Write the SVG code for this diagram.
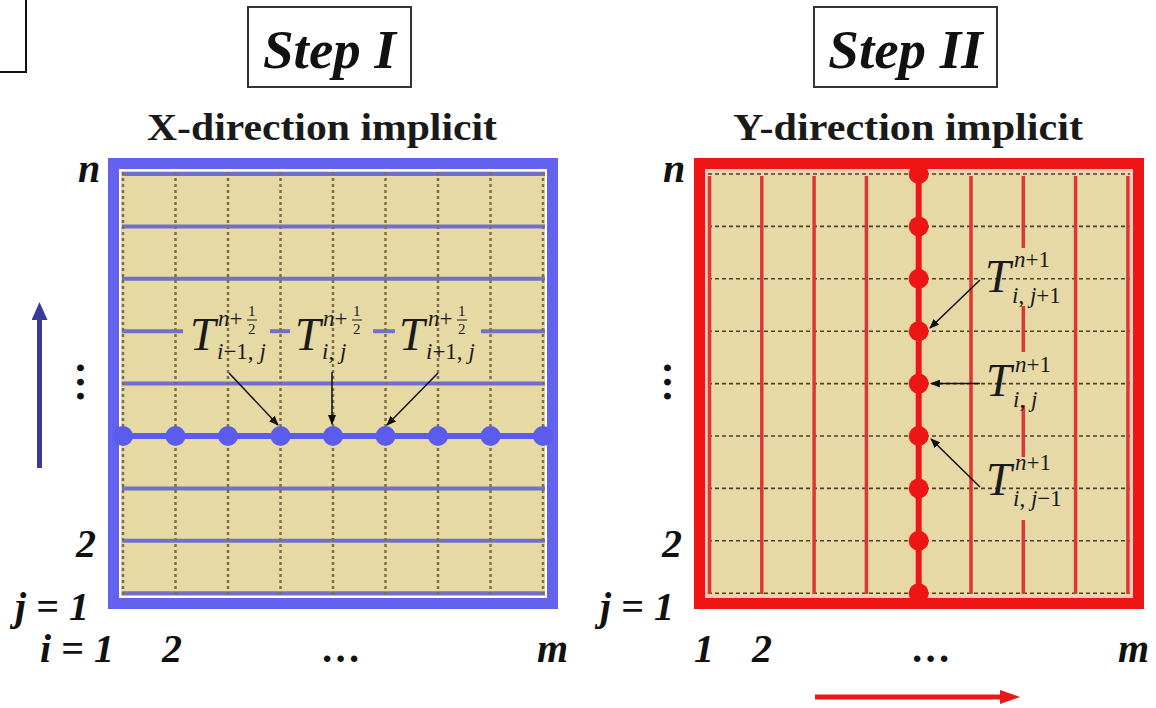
<svg xmlns="http://www.w3.org/2000/svg" width="1156" height="708" viewBox="0 0 1156 708">
<defs>
<marker id="ah" markerWidth="10" markerHeight="8" refX="9" refY="4" orient="auto" markerUnits="userSpaceOnUse"><path d="M0,0 L10,4 L0,8 z" fill="#111"/></marker>
<marker id="ahBlue" markerWidth="18" markerHeight="16" refX="2" refY="8" orient="auto" markerUnits="userSpaceOnUse"><path d="M0,0 L18,8 L0,16 z" fill="#3D3A97"/></marker>
<marker id="ahRed" markerWidth="20" markerHeight="14" refX="2" refY="7" orient="auto" markerUnits="userSpaceOnUse"><path d="M0,0 L20,7 L0,14 z" fill="#E81818"/></marker>
</defs>
<style>
.lbl{font-family:"Liberation Serif","Times New Roman",serif;font-weight:bold;font-style:italic;font-size:40px;fill:#111}
.vdots{font-family:"Liberation Serif","Times New Roman",serif;font-weight:bold;font-size:42px;fill:#111}
.ttl{font-family:"Liberation Serif","Times New Roman",serif;font-weight:bold;font-size:38px;fill:#1a1a1a}
.step{font-family:"Liberation Serif","Times New Roman",serif;font-weight:bold;font-style:italic;font-size:55px;fill:#111}
.m{font-family:"Liberation Serif","Times New Roman",serif;fill:#1a1a1a}
.T{font-size:46px;font-style:italic}
.s{font-size:23px}
.f{font-size:15px}
.it{font-style:italic}
.hb{stroke:#7070CC;stroke-width:4}
.vd{stroke:#7d7048;stroke-width:2.5;stroke-dasharray:3 3}
.hd{stroke:#4a4030;stroke-width:1.6;stroke-dasharray:4 3}
.vr{stroke:#E03535;stroke-width:3.5}
.arr{stroke:#111;stroke-width:1.5;fill:none;marker-end:url(#ah)}
.fbar{stroke:#1a1a1a;stroke-width:1}
.bdot{fill:#5B5BEE}
.rdot{fill:#EE1515}
</style>
<rect width="1156" height="708" fill="#ffffff"/>

<g id="corner-box"><rect x="-10" y="-10" width="36" height="82" fill="none" stroke="#111" stroke-width="2"/></g>

<g id="step1-title">
<rect x="248" y="7" width="163" height="80" fill="#fff" stroke="#333" stroke-width="2"/>
<text class="step" x="329.5" y="68" text-anchor="middle">Step I</text>
<text class="ttl" x="147" y="140" textLength="350" lengthAdjust="spacingAndGlyphs">X-direction implicit</text>
</g>

<g id="step2-title">
<rect x="814" y="7" width="183" height="80" fill="#fff" stroke="#333" stroke-width="2"/>
<text class="step" x="905.5" y="68" text-anchor="middle">Step II</text>
<text class="ttl" x="733" y="140" textLength="350" lengthAdjust="spacingAndGlyphs">Y-direction implicit</text>
</g>

<g id="panel-left">
<rect x="120" y="170" width="426" height="427" fill="#E6D9A4" stroke="#ffffff" stroke-width="2"/>
<line class="hb" x1="122" y1="174" x2="545" y2="174"/>
<line class="hb" x1="122" y1="226.4" x2="545" y2="226.4"/>
<line class="hb" x1="122" y1="278.8" x2="545" y2="278.8"/>
<line class="hb" x1="122" y1="331.2" x2="183" y2="331.2"/>
<line class="hb" x1="270" y1="331.2" x2="290" y2="331.2"/>
<line class="hb" x1="373" y1="331.2" x2="395" y2="331.2"/>
<line class="hb" x1="481" y1="331.2" x2="545" y2="331.2"/>
<line class="hb" x1="122" y1="383.6" x2="545" y2="383.6"/>
<line class="hb" x1="122" y1="488.4" x2="545" y2="488.4"/>
<line class="hb" x1="122" y1="540.8" x2="545" y2="540.8"/>
<line class="hb" x1="122" y1="593.2" x2="545" y2="593.2"/>
<line class="vd" x1="123" y1="172" x2="123" y2="596"/>
<line class="vd" x1="175.5" y1="172" x2="175.5" y2="596"/>
<line class="vd" x1="228" y1="172" x2="228" y2="596"/>
<line class="vd" x1="280.5" y1="172" x2="280.5" y2="596"/>
<line class="vd" x1="333" y1="172" x2="333" y2="596"/>
<line class="vd" x1="385.5" y1="172" x2="385.5" y2="596"/>
<line class="vd" x1="438" y1="172" x2="438" y2="596"/>
<line class="vd" x1="490.5" y1="172" x2="490.5" y2="596"/>
<line class="vd" x1="543" y1="172" x2="543" y2="596"/>
<rect x="113.5" y="163.5" width="439" height="440" fill="none" stroke="#6262EE" stroke-width="11"/>
<line x1="118" y1="436" x2="548" y2="436" stroke="#5B5BEE" stroke-width="6"/>
<circle class="bdot" cx="123" cy="436" r="10"/>
<circle class="bdot" cx="175.5" cy="436" r="10"/>
<circle class="bdot" cx="228" cy="436" r="10"/>
<circle class="bdot" cx="280.5" cy="436" r="10"/>
<circle class="bdot" cx="333" cy="436" r="10"/>
<circle class="bdot" cx="385.5" cy="436" r="10"/>
<circle class="bdot" cx="438" cy="436" r="10"/>
<circle class="bdot" cx="490.5" cy="436" r="10"/>
<circle class="bdot" cx="543" cy="436" r="10"/>
</g>

<g id="panel-right">
<rect x="706" y="170" width="426" height="427" fill="#E6D9A6" stroke="#FFC8C0" stroke-width="2"/>
<line class="hd" x1="708" y1="174" x2="1130" y2="174"/>
<line class="hd" x1="708" y1="226.4" x2="1130" y2="226.4"/>
<line class="hd" x1="708" y1="278.8" x2="1130" y2="278.8"/>
<line class="hd" x1="708" y1="331.2" x2="1130" y2="331.2"/>
<line class="hd" x1="708" y1="383.6" x2="1130" y2="383.6"/>
<line class="hd" x1="708" y1="436" x2="1130" y2="436"/>
<line class="hd" x1="708" y1="488.4" x2="1130" y2="488.4"/>
<line class="hd" x1="708" y1="540.8" x2="1130" y2="540.8"/>
<line class="hd" x1="708" y1="593.2" x2="1130" y2="593.2"/>
<line class="vr" x1="709.5" y1="176" x2="709.5" y2="594"/>
<line class="vr" x1="761.8" y1="176" x2="761.8" y2="594"/>
<line class="vr" x1="814.1" y1="176" x2="814.1" y2="594"/>
<line class="vr" x1="866.4" y1="176" x2="866.4" y2="594"/>
<line class="vr" x1="971" y1="176" x2="971" y2="594"/>
<line class="vr" x1="1023.3" y1="176" x2="1023.3" y2="248"/>
<line class="vr" x1="1023.3" y1="306" x2="1023.3" y2="352"/>
<line class="vr" x1="1023.3" y1="405" x2="1023.3" y2="457"/>
<line class="vr" x1="1023.3" y1="520" x2="1023.3" y2="594"/>
<line class="vr" x1="1075.6" y1="176" x2="1075.6" y2="594"/>
<line class="vr" x1="1127.9" y1="176" x2="1127.9" y2="594"/>
<rect x="699.5" y="163.5" width="439" height="440" fill="none" stroke="#EE1515" stroke-width="11"/>
<line x1="918.7" y1="163" x2="918.7" y2="609" stroke="#EE1515" stroke-width="6"/>
<circle class="rdot" cx="918.7" cy="174" r="10"/>
<circle class="rdot" cx="918.7" cy="226.4" r="10"/>
<circle class="rdot" cx="918.7" cy="278.8" r="10"/>
<circle class="rdot" cx="918.7" cy="331.2" r="10"/>
<circle class="rdot" cx="918.7" cy="383.6" r="10"/>
<circle class="rdot" cx="918.7" cy="436" r="10"/>
<circle class="rdot" cx="918.7" cy="488.4" r="10"/>
<circle class="rdot" cx="918.7" cy="540.8" r="10"/>
<circle class="rdot" cx="918.7" cy="593.2" r="10"/>
</g>

<g id="labels-left-math">
<text class="m"><tspan class="T" x="190" y="350">T</tspan><tspan class="s it" x="218" y="326">n</tspan><tspan class="s">+</tspan><tspan class="f" x="248" y="316">1</tspan><tspan class="f" x="248" y="334">2</tspan><tspan class="s" x="217" y="359"><tspan class="it">i</tspan>−1, <tspan class="it">j</tspan></tspan></text>
<line class="fbar" x1="247" y1="320" x2="257" y2="320"/>

<text class="m"><tspan class="T" x="295" y="350">T</tspan><tspan class="s it" x="323" y="326">n</tspan><tspan class="s">+</tspan><tspan class="f" x="353" y="316">1</tspan><tspan class="f" x="353" y="334">2</tspan><tspan class="s" x="322" y="359"><tspan class="it">i</tspan>, <tspan class="it">j</tspan></tspan></text>
<line class="fbar" x1="352" y1="320" x2="362" y2="320"/>

<text class="m"><tspan class="T" x="399" y="350">T</tspan><tspan class="s it" x="428" y="326">n</tspan><tspan class="s">+</tspan><tspan class="f" x="458" y="316">1</tspan><tspan class="f" x="458" y="334">2</tspan><tspan class="s" x="426" y="359"><tspan class="it">i</tspan>+1, <tspan class="it">j</tspan></tspan></text>
<line class="fbar" x1="457" y1="320" x2="467" y2="320"/>
</g>

<g id="labels-right-math">
<text class="m"><tspan class="T" x="985" y="292">T</tspan><tspan class="s" x="1014" y="267"><tspan class="it">n</tspan>+1</tspan><tspan class="s" x="1012" y="303"><tspan class="it">i</tspan>, <tspan class="it">j</tspan>+1</tspan></text>
<text class="m"><tspan class="T" x="986" y="396">T</tspan><tspan class="s" x="1015" y="372"><tspan class="it">n</tspan>+1</tspan><tspan class="s" x="1013" y="407"><tspan class="it">i</tspan>, <tspan class="it">j</tspan></tspan></text>
<text class="m"><tspan class="T" x="986" y="495">T</tspan><tspan class="s" x="1015" y="470"><tspan class="it">n</tspan>+1</tspan><tspan class="s" x="1013" y="506"><tspan class="it">i</tspan>, <tspan class="it">j</tspan>−1</tspan></text>
</g>

<g id="connectors">
<line class="arr" x1="229" y1="373" x2="278" y2="425"/>
<line class="arr" x1="332" y1="372" x2="332" y2="424"/>
<line class="arr" x1="438" y1="373" x2="387" y2="425"/>
<line class="arr" x1="980" y1="280" x2="930" y2="328"/>
<line class="arr" x1="980" y1="383.6" x2="931" y2="383.6"/>
<line class="arr" x1="980" y1="487" x2="931" y2="439"/>
<line x1="39.5" y1="468" x2="39.5" y2="318" stroke="#3D3A97" stroke-width="5" marker-end="url(#ahBlue)"/>
<line x1="815" y1="697" x2="1002" y2="697" stroke="#E81818" stroke-width="5" marker-end="url(#ahRed)"/>
</g>

<g id="axis-labels-left">
<text class="lbl" x="78" y="182">n</text>
<text class="vdots" x="80" y="385" text-anchor="middle" transform="rotate(90 80 382)">…</text>
<text class="lbl" x="76" y="557">2</text>
<text class="lbl" x="15" y="620">j = 1</text>
<text class="lbl" x="40" y="662">i = 1</text>
<text class="lbl" x="162" y="662">2</text>
<text class="lbl" x="322" y="662">…</text>
<text class="lbl" x="537" y="662">m</text>
</g>

<g id="axis-labels-right">
<text class="lbl" x="663" y="182">n</text>
<text class="vdots" x="667" y="385" text-anchor="middle" transform="rotate(90 667 382)">…</text>
<text class="lbl" x="662" y="557">2</text>
<text class="lbl" x="600" y="620">j = 1</text>
<text class="lbl" x="694" y="662">1</text>
<text class="lbl" x="752" y="662">2</text>
<text class="lbl" x="912" y="662">…</text>
<text class="lbl" x="1118" y="662">m</text>
</g>
</svg>
